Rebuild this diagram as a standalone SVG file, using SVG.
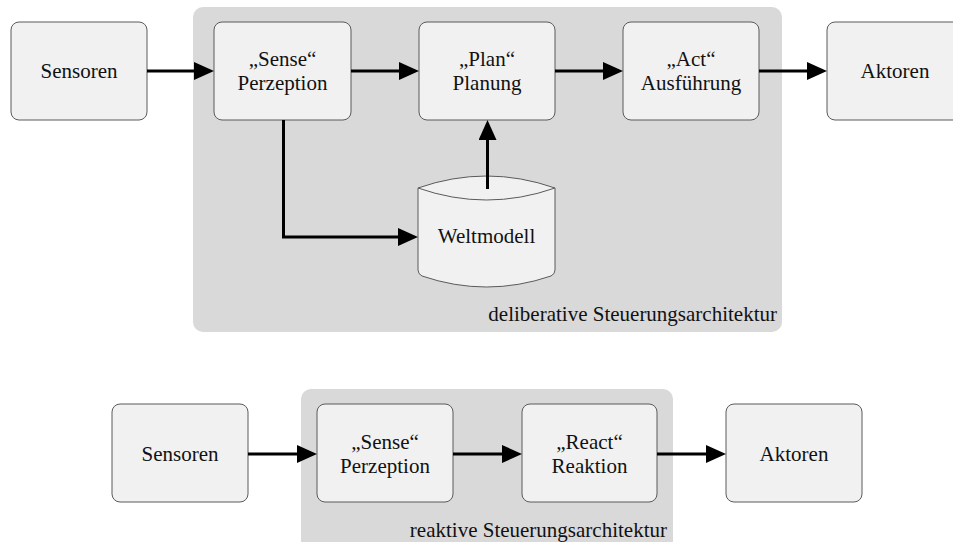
<svg xmlns="http://www.w3.org/2000/svg" width="953" height="542" viewBox="0 0 953 542">
  <style>
    .panel { fill: #d9d9d9; stroke: none; }
    .box { fill: #f1f1f1; stroke: #5a5a5a; stroke-width: 1; }
    .lbl { font-size: 21px; fill: #111; text-anchor: middle; }
    .cap { font-size: 21px; fill: #111; text-anchor: end; }
    .wire { fill: none; stroke: #000; stroke-width: 3; marker-end: url(#ah); }
  </style>
  <defs>
    <marker id="ah" markerWidth="20" markerHeight="18" refX="0" refY="9" orient="auto" markerUnits="userSpaceOnUse">
      <path d="M0,0 L20,9 L0,18 Z" fill="#000"/>
    </marker>
  </defs>

  <rect width="953" height="542" fill="#fff"/>

  <g font-family="Liberation Serif, DejaVu Serif, serif">
  <!-- deliberative architecture -->
  <g id="deliberative-panel">
    <rect class="panel" x="193" y="7" width="589" height="325" rx="10"/>
    <text class="cap" x="777" y="321">deliberative Steuerungsarchitektur</text>
  </g>
  <g id="d-sensoren">
    <rect class="box" x="11" y="22" width="136" height="98" rx="8"/>
    <text class="lbl" x="79" y="78">Sensoren</text>
  </g>
  <g id="d-sense">
    <rect class="box" x="214" y="22" width="137" height="98" rx="8"/>
    <text class="lbl" x="282.5" y="66">„Sense“</text>
    <text class="lbl" x="282.5" y="90">Perzeption</text>
  </g>
  <g id="d-plan">
    <rect class="box" x="419" y="22" width="136" height="98" rx="8"/>
    <text class="lbl" x="487" y="66">„Plan“</text>
    <text class="lbl" x="487" y="90">Planung</text>
  </g>
  <g id="d-act">
    <rect class="box" x="623" y="22" width="136" height="98" rx="8"/>
    <text class="lbl" x="691" y="66">„Act“</text>
    <text class="lbl" x="691" y="90">Ausführung</text>
  </g>
  <g id="d-aktoren">
    <rect class="box" x="827" y="22" width="136" height="98" rx="8"/>
    <text class="lbl" x="895" y="78">Aktoren</text>
  </g>
  <g id="d-weltmodell">
    <path class="box" d="M418,188 Q486.5,164 555,188 L555,270 Q555,274 551,276 Q486.5,298 422,276 Q418,274 418,270 Z"/>
    <path class="box" fill="none" d="M418,188 Q486.5,212 555,188"/>
    <text class="lbl" x="486.5" y="243">Weltmodell</text>
  </g>

  <!-- reactive architecture -->
  <g id="reactive-panel">
    <rect class="panel" x="301" y="389" width="372" height="170" rx="10"/>
    <text class="cap" x="667" y="537">reaktive Steuerungsarchitektur</text>
  </g>
  <g id="r-sensoren">
    <rect class="box" x="112" y="404" width="136" height="98" rx="8"/>
    <text class="lbl" x="180" y="461">Sensoren</text>
  </g>
  <g id="r-sense">
    <rect class="box" x="317" y="404" width="136" height="98" rx="8"/>
    <text class="lbl" x="385" y="449">„Sense“</text>
    <text class="lbl" x="385" y="473">Perzeption</text>
  </g>
  <g id="r-react">
    <rect class="box" x="522" y="404" width="135" height="98" rx="8"/>
    <text class="lbl" x="589.5" y="449">„React“</text>
    <text class="lbl" x="589.5" y="473">Reaktion</text>
  </g>
  <g id="r-aktoren">
    <rect class="box" x="726" y="404" width="136" height="98" rx="8"/>
    <text class="lbl" x="794" y="461">Aktoren</text>
  </g>
  </g>

  <!-- connectors -->
  <g id="connectors">
    <path class="wire" d="M147,71 H194"/>
    <path class="wire" d="M351,71 H399"/>
    <path class="wire" d="M555,71 H603"/>
    <path class="wire" d="M759,71 H807"/>
    <path class="wire" d="M283.5,120 V237 H398"/>
    <path class="wire" d="M487.5,189 V140"/>
    <path class="wire" d="M248,454 H297"/>
    <path class="wire" d="M453,454 H502"/>
    <path class="wire" d="M657,454 H706"/>
  </g>
</svg>
